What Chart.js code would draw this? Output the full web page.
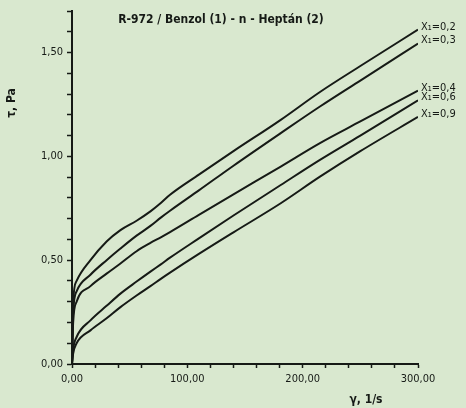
<!DOCTYPE html>
<html>
<head>
<meta charset="utf-8">
<script src="https://cdn.jsdelivr.net/npm/chart.js@4"></script>
<style>
  body { margin: 0; background: #d9e8cf; }
  #chart { display: block; background: #d9e8cf; }
</style>
</head>
<body>
<canvas id="chart" width="466" height="408"></canvas>
<script>
// shear rate, 1/s
const shearRate = [0, 1, 4, 16, 30, 42, 56, 68, 77, 85, 110, 140, 181, 215, 250, 300];

// shear stress, Pa
const tauX02 = [0, 0.30, 0.40, 0.50, 0.59, 0.645, 0.69, 0.735, 0.775, 0.815, 0.912, 1.025, 1.176, 1.31, 1.435, 1.61];
const tauX03 = [0, 0.25, 0.35, 0.43, 0.50, 0.556, 0.618, 0.665, 0.705, 0.738, 0.836, 0.955, 1.112, 1.24, 1.365, 1.543];
const tauX04 = [0, 0.20, 0.30, 0.375, 0.435, 0.484, 0.543, 0.583, 0.61, 0.635, 0.718, 0.817, 0.951, 1.064, 1.168, 1.316];
const tauX06 = [0, 0.07, 0.13, 0.21, 0.28, 0.339, 0.397, 0.445, 0.48, 0.512, 0.605, 0.715, 0.862, 0.983, 1.10, 1.27];
const tauX09 = [0, 0.05, 0.10, 0.162, 0.22, 0.274, 0.33, 0.375, 0.41, 0.44, 0.53, 0.634, 0.774, 0.902, 1.025, 1.19];

const seriesLabels = ["X\u2081=0,2", "X\u2081=0,3", "X\u2081=0,4", "X\u2081=0,6", "X\u2081=0,9"];
const xLabelTicks = [0, 100, 200, 300];
const yLabelTicks = [0, 0.5, 1.0, 1.5];

const chartTitle = "R-972 / Benzol (1) - n - Heptán (2)";
const xTitle = "\u03B3, 1/s";
const yTitle = "\u03C4, Pa";

const FONT = "'DejaVu Sans Condensed', 'Liberation Sans Narrow', sans-serif";
const INK = "#161a16";

function toPoints(ys) {
  return shearRate.map((x, i) => ({ x: x, y: ys[i] }));
}

function comma(v) {
  return v.toFixed(2).replace(".", ",");
}

const allSeries = [tauX02, tauX03, tauX04, tauX06, tauX09];

const datasets = allSeries.map((ys, i) => ({
  label: seriesLabels[i],
  data: toPoints(ys),
  borderColor: INK,
  borderWidth: 2,
  pointRadius: 0,
  fill: false,
  cubicInterpolationMode: "monotone",
}));

// texts: title, axis names, labels at line ends
const textPlugin = {
  id: "texts",
  afterDraw(chart) {
    const ctx = chart.ctx;
    const xs = chart.scales.x;
    const ys = chart.scales.y;
    ctx.save();
    ctx.fillStyle = INK;

    ctx.font = "bold 12px " + FONT;
    ctx.textAlign = "center";
    ctx.textBaseline = "middle";
    ctx.fillText(chartTitle, 221, 20);

    ctx.fillText(xTitle, 366, 400);

    ctx.save();
    ctx.translate(12, 103);
    ctx.rotate(-Math.PI / 2);
    ctx.fillText(yTitle, 0, 0);
    ctx.restore();

    ctx.font = "11px " + FONT;
    ctx.textAlign = "left";
    allSeries.forEach((vals, i) => {
      const last = vals.length - 1;
      const px = xs.getPixelForValue(shearRate[last]);
      const py = ys.getPixelForValue(vals[last]);
      ctx.fillText(seriesLabels[i], px + 3, py - 3);
    });
    ctx.restore();
  },
};

new Chart(document.getElementById("chart"), {
  type: "line",
  data: { datasets: datasets },
  plugins: [textPlugin],
  options: {
    responsive: false,
    animation: false,
    layout: { padding: { top: 11, right: 48, left: 0, bottom: 0 } },
    plugins: {
      legend: { display: false },
      tooltip: { enabled: false },
    },
    scales: {
      x: {
        type: "linear",
        min: 0,
        max: 300,
        afterFit: (scale) => { scale.height = 44; },
        border: { color: INK, width: 2 },
        grid: { drawOnChartArea: false, tickLength: 4, tickColor: INK, tickWidth: 1.5 },
        ticks: {
          stepSize: 20,
          autoSkip: false,
          maxRotation: 0,
          padding: 5,
          color: INK,
          font: { family: FONT, size: 11 },
          callback: (v) => (xLabelTicks.includes(Math.round(v)) && Math.abs(v - Math.round(v)) < 1e-6 ? comma(v) : ""),
        },
      },
      y: {
        min: 0,
        max: 1.7,
        afterFit: (scale) => { scale.width = 72; },
        border: { color: INK, width: 2 },
        grid: { drawOnChartArea: false, tickLength: 5, tickColor: INK, tickWidth: 1.5 },
        ticks: {
          stepSize: 0.1,
          autoSkip: false,
          padding: 4,
          color: INK,
          font: { family: FONT, size: 11 },
          callback: (v) => (yLabelTicks.some((t) => Math.abs(t - v) < 1e-6) ? comma(v) : ""),
        },
      },
    },
  },
});
</script>
</body>
</html>
